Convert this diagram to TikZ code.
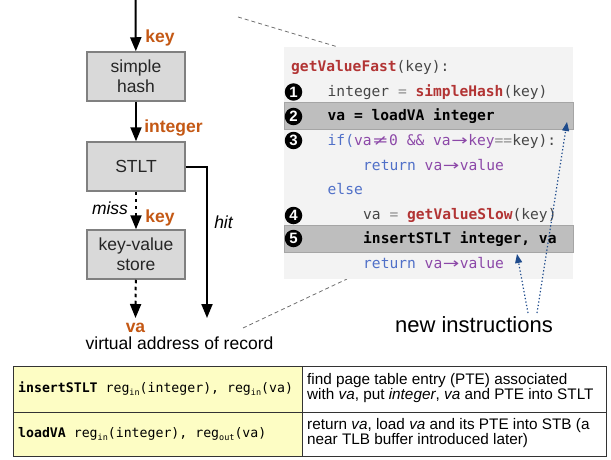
\documentclass[tikz,border=0pt]{standalone}
\usepackage{fontspec}
\usepackage{graphicx}
\setmainfont{Liberation Sans}
\setmonofont{DejaVu Sans Mono}
\newfontfamily\ligfont{DejaVu Sans}
\usetikzlibrary{arrows.meta}

\definecolor{kword}{RGB}{196,88,20}
\definecolor{boxfill}{RGB}{217,217,217}
\definecolor{boxline}{RGB}{128,128,128}
\definecolor{panel}{RGB}{243,243,243}
\definecolor{band}{RGB}{190,190,190}
\definecolor{bandline}{RGB}{165,165,165}
\definecolor{fnred}{RGB}{178,52,52}
\definecolor{kwblue}{RGB}{80,112,200}
\definecolor{varpurple}{RGB}{140,72,168}
\definecolor{codegray}{RGB}{70,70,70}
\definecolor{opgray}{RGB}{140,140,140}
\definecolor{noteblue}{RGB}{30,75,140}
\definecolor{tabyellow}{RGB}{253,253,196}
\definecolor{zoomgray}{RGB}{110,110,110}

% a ligature glyph stretched over two monospace cells
\newcommand{\twocell}[1]{\makebox[1.204em]{\ligfont\scalebox{1.35}[1]{#1}}}
% small lowered register tag
\newcommand{\regtag}[1]{\raisebox{-3pt}{\fontsize{8.5}{8.5}\selectfont #1}}

\tikzset{
  flowbox/.style={draw=boxline, line width=1.5pt, fill=boxfill,
    minimum width=98pt, minimum height=49pt, inner sep=0pt, align=center,
    text=black!85, font=\fontsize{17.5}{20}\selectfont},
  flow/.style={line width=2pt, -{Triangle[length=14pt,width=11pt]}},
  flowdot/.style={flow, dash pattern=on 3.5pt off 3.5pt},
  lbl/.style={inner sep=0pt, text=kword, font=\fontsize{17.5}{20}\selectfont\bfseries},
  branch/.style={inner sep=0pt, font=\fontsize{17.5}{20}\selectfont\itshape},
  caption/.style={inner sep=0pt, font=\fontsize{17.5}{20}\selectfont},
  code/.style={anchor=base west, inner sep=0pt, text=codegray,
    font=\fontsize{14.6}{17}\selectfont\ttfamily},
  num/.style={circle, fill=black, minimum size=17.5pt, inner sep=0pt, text=white,
    font=\fontsize{15}{15}\selectfont\bfseries},
  zoomline/.style={draw=zoomgray, line width=0.8pt, dash pattern=on 4pt off 3pt},
  newarrow/.style={draw=noteblue, line width=1.2pt, dash pattern=on 1.3pt off 2.2pt,
    -{Triangle[length=9pt,width=7pt]}},
  tabmono/.style={anchor=west, inner sep=0pt,
    font=\fontsize{13.2}{15}\selectfont\ttfamily},
  tabtext/.style={anchor=west, inner sep=0pt, align=left,
    font=\fontsize{15.3}{15}\selectfont},
}

\begin{document}
\begin{tikzpicture}[x=1pt, y=-1pt]
\useasboundingbox (0,0) rectangle (611,460);

% ---------- lookup flow ----------
\coordinate (entry) at (135.5,0);
\node[flowbox] (hash) at (136,76.5) {simple\\hash};
\node[flowbox] (stlt) at (136,166.5) {STLT};
\node[flowbox] (kv) at (136,254.5) {key-value\\store};
\node[lbl] (va) at (135.5,328) {va};
\node[caption] (vaddr) at (179.5,343.5) {virtual address of record};
\coordinate (vaend) at (135.5,318);
\coordinate (hitcorner) at (207,166.5);
\coordinate (hitend) at (207,318);

\draw[flow] (entry) -- (hash);
\draw[flow] (hash) -- (stlt);
\draw[flowdot] (stlt) -- (kv);
\draw[flowdot] (kv) -- (vaend);
\draw[flow] (stlt.east) -- (hitcorner) -- (hitend);

\node[lbl] (lkey) at (160,38) {key};
\node[lbl] (lint) at (173.5,128) {integer};
\node[branch] (lmiss) at (110,208) {miss};
\node[lbl] (lkey2) at (160,218) {key};
\node[branch] (lhit) at (223.5,222) {hit};

% ---------- code listing ----------
\coordinate (zt1) at (238,17);
\coordinate (zt2) at (338,47);
\coordinate (zb1) at (243,328);
\coordinate (zb2) at (347,279);
\draw[zoomline] (zt1) -- (zt2);
\draw[zoomline] (zb1) -- (zb2);

\fill[panel] (284,47) rectangle (573,279);
\filldraw[fill=band, draw=bandline, line width=0.8pt] (284,102) rectangle (573,129);
\filldraw[fill=band, draw=bandline, line width=0.8pt] (284,225) rectangle (573,252);

\node[code] (c0) at (291,72) {\textcolor{fnred}{\bfseries getValueFast}(key):};
\node[code] (c1) at (327.5,96.5) {integer \textcolor{opgray}{=} \textcolor{fnred}{\bfseries simpleHash}(key)};
\node[code, text=black] (c2) at (327.5,121) {\bfseries va = loadVA integer};
\node[code] (c3) at (327.5,145.5) {\textcolor{kwblue}{if(}\textcolor{varpurple}{va\twocell{≠}0 \&\& va\twocell{→}key}\textcolor{opgray}{==}key):};
\node[code] (c4) at (363,170) {\textcolor{kwblue}{return} \textcolor{varpurple}{va\twocell{→}value}};
\node[code, text=kwblue] (c5) at (327.5,194.5) {else};
\node[code] (c6) at (363,219) {va \textcolor{opgray}{=} \textcolor{fnred}{\bfseries getValueSlow}(key)};
\node[code, text=black] (c7) at (363,243.5) {\bfseries insertSTLT integer, va};
\node[code] (c8) at (363,268) {\textcolor{kwblue}{return} \textcolor{varpurple}{va\twocell{→}value}};

\node[num] (n1) at (293.5,92) {1};
\node[num] (n2) at (293.5,116.5) {2};
\node[num] (n3) at (293.5,140.5) {3};
\node[num] (n4) at (293.5,215.5) {4};
\node[num] (n5) at (293.5,238.5) {5};

% ---------- new instructions callout ----------
\node[inner sep=0pt, font=\fontsize{22}{24}\selectfont] (newins) at (474,325) {new instructions};
\coordinate (s1) at (528,313);
\coordinate (s2) at (537,313);
\coordinate (t1) at (517,254);
\coordinate (t2) at (567,122);
\draw[newarrow] (s1) -- (t1);
\draw[newarrow] (s2) -- (t2);

% ---------- instruction table ----------
\fill[tabyellow] (13,366) rectangle (302,456);
\draw[line width=1pt, draw=black!80] (13,366) rectangle (606,456);
\draw[line width=1pt, draw=black!80] (13,412) -- (606,412);
\draw[line width=1pt, draw=black!80] (302,366) -- (302,456);

\node[tabmono] (i1) at (18,389) {\textbf{insertSTLT} reg\regtag{in}(integer), reg\regtag{in}(va)};
\node[tabmono] (i2) at (18,434) {\textbf{loadVA} reg\regtag{in}(integer), reg\regtag{out}(va)};
\node[tabtext] (d1) at (307,388) {find page table entry (PTE) associated\\with \textit{va}, put \textit{integer}, \textit{va} and PTE into STLT};
\node[tabtext] (d2) at (307,433.5) {return \textit{va}, load \textit{va} and its PTE into STB (a\\near TLB buffer introduced later)};
\end{tikzpicture}
\end{document}
